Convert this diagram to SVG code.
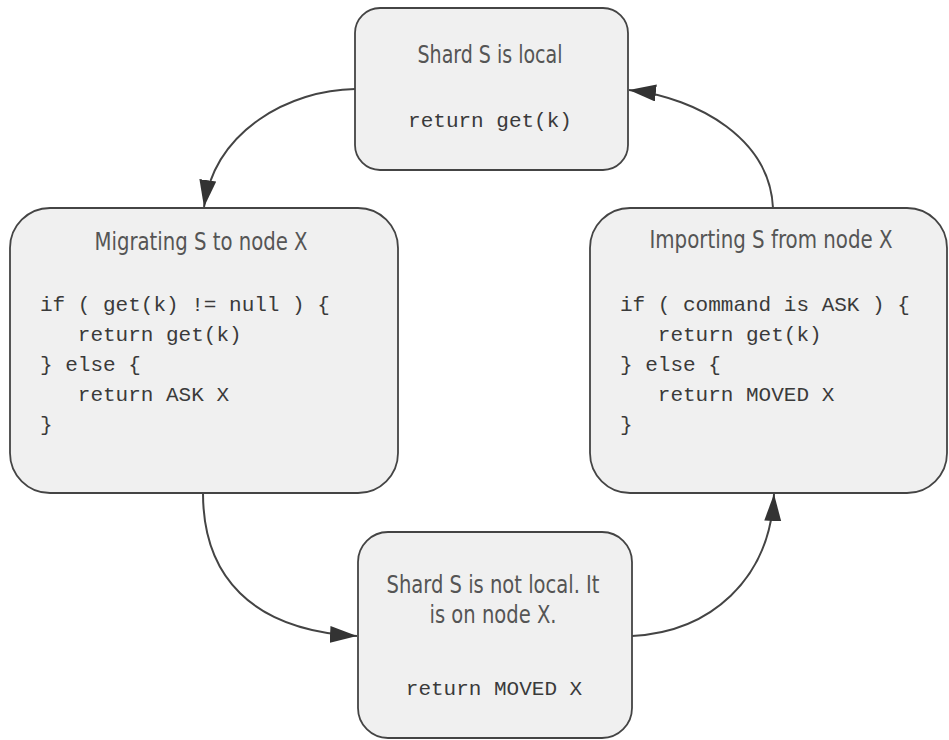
<svg xmlns="http://www.w3.org/2000/svg" width="949" height="740" viewBox="0 0 949 740">
<defs>
<style>
.box{fill:#f0f0f0;stroke:#444;stroke-width:1.8}
.title{font-family:"Liberation Sans Narrow","DejaVu Sans Condensed",sans-serif;font-size:24px;fill:#555;text-anchor:middle}
.code{font-family:"Liberation Mono","Courier New",monospace;font-size:21px;fill:#3a3a3a}
.mid{text-anchor:middle}
.edge{fill:none;stroke:#444;stroke-width:2;marker-end:url(#arr)}
</style>
<marker id="arr" markerUnits="userSpaceOnUse" markerWidth="28" markerHeight="18" refX="27" refY="8.5" orient="auto">
<path d="M0,0 L27,8.5 L0,17 z" fill="#333"/>
</marker>
</defs>
<rect width="949" height="740" fill="#fff"/>
<g id="connectors">
<path class="edge" d="M355,89 C290,90 215,130 204,207"/>
<path class="edge" d="M203,493 C203,575 250,630 357,636"/>
<path class="edge" d="M632,636 C710,632 770,580 774,494"/>
<path class="edge" d="M773,208 C770,140 700,98 629,90"/>
</g>
<g id="local">
<rect class="box" x="355" y="8" width="273" height="162" rx="25"/>
<text class="title" x="490" y="63" textLength="145" lengthAdjust="spacingAndGlyphs">Shard S is local</text>
<text class="code mid" x="490" y="127">return get(k)</text>
</g>
<g id="migrating">
<rect class="box" x="10" y="208" width="388" height="285" rx="40"/>
<text class="title" x="201" y="250" textLength="213" lengthAdjust="spacingAndGlyphs">Migrating S to node X</text>
<text class="code" x="40" y="311" xml:space="preserve">if ( get(k) != null ) {</text>
<text class="code" x="40" y="341" xml:space="preserve">   return get(k)</text>
<text class="code" x="40" y="371" xml:space="preserve">} else {</text>
<text class="code" x="40" y="401" xml:space="preserve">   return ASK X</text>
<text class="code" x="40" y="431">}</text>
</g>
<g id="importing">
<rect class="box" x="590" y="208" width="357" height="285" rx="40"/>
<text class="title" x="771" y="248" textLength="243" lengthAdjust="spacingAndGlyphs">Importing S from node X</text>
<text class="code" x="620" y="311" xml:space="preserve">if ( command is ASK ) {</text>
<text class="code" x="620" y="341" xml:space="preserve">   return get(k)</text>
<text class="code" x="620" y="371" xml:space="preserve">} else {</text>
<text class="code" x="620" y="401" xml:space="preserve">   return MOVED X</text>
<text class="code" x="620" y="431">}</text>
</g>
<g id="notlocal">
<rect class="box" x="358" y="532" width="274" height="206" rx="30"/>
<text class="title" x="493" y="593" textLength="213" lengthAdjust="spacingAndGlyphs">Shard S is not local. It</text>
<text class="title" x="493" y="623" textLength="127" lengthAdjust="spacingAndGlyphs">is on node X.</text>
<text class="code mid" x="494" y="695">return MOVED X</text>
</g>
</svg>
